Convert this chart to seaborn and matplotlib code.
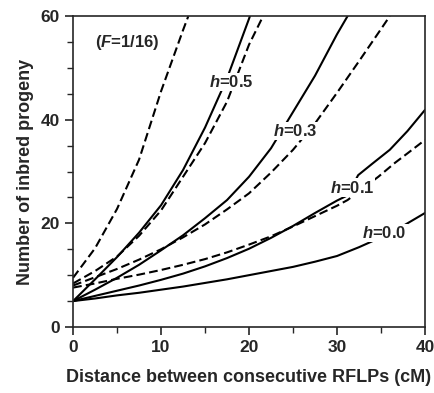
import pandas as pd
import matplotlib
matplotlib.use("Agg")
import matplotlib.pyplot as plt
import seaborn as sns
from matplotlib.ticker import MultipleLocator

sns.set_style("ticks")
plt.rcParams['font.family'] = ['Liberation Sans', 'DejaVu Sans']
plt.rcParams['mathtext.fontset'] = 'custom'
plt.rcParams['mathtext.rm'] = 'Liberation Sans:bold'
plt.rcParams['mathtext.it'] = 'Liberation Sans:italic:bold'

# values (distance in cM -> number of inbred progeny)
h00_x = [0, 2.5, 5, 7.5, 10, 12.5, 15, 17.5, 20, 22.5, 25, 27.5, 30, 32.5, 35, 37.5, 40]
h00_y = [5, 5.5, 6.1, 6.6, 7.2, 7.8, 8.5, 9.2, 10.0, 10.8, 11.6, 12.6, 13.7, 15.4, 17.3, 19.5, 22.0]

h01_x = [0, 2.5, 5, 7.5, 10, 12.5, 15, 17.5, 20, 22.5, 25, 27.5, 30, 31.2, 32.4, 34, 36, 38, 40]
h01_y = [5, 6.0, 7.0, 8.0, 9.1, 10.3, 11.7, 13.3, 15.1, 17.2, 19.5, 22.0, 24.4, 25.4, 29.3, 31.5, 34.2, 37.8, 41.9]
h01d_x = [0, 2.5, 5, 7.5, 10, 12.5, 15, 17.5, 20, 22.5, 25, 27.5, 30, 31.2, 34.7, 36.6, 38, 40]
h01d_y = [7.6, 8.4, 9.3, 10.1, 11.0, 12.0, 13.1, 14.4, 15.9, 17.5, 19.4, 21.4, 23.4, 24.5, 29.0, 31.7, 33.5, 36.1]

h03_x = [0, 2.5, 5, 7.5, 10, 12.5, 15, 17.5, 20, 22.5, 25, 27.5, 30, 31.2]
h03_y = [5, 7.2, 9.5, 12.0, 14.8, 17.7, 21.0, 24.5, 29.0, 34.5, 41.5, 48.5, 56.5, 60]
h03d_x = [0, 2.5, 5, 7.5, 10, 12.5, 15, 17.5, 20, 22.5, 25, 27.5, 30, 32.5, 35, 36]
h03d_y = [8.0, 9.6, 11.2, 13.0, 15.0, 17.3, 19.8, 22.7, 25.8, 29.8, 34.2, 39.3, 45.2, 51.3, 57.5, 60]

h05_x = [0, 2.5, 5, 7.5, 10, 12.5, 15, 17.5, 20, 20.1]
h05_y = [5, 9.2, 13.5, 18.2, 23.5, 30.3, 38.5, 48.0, 59.5, 60]
h05d_x = [0, 2.5, 5, 7.5, 10, 12.5, 15, 17.5, 20, 21.6]
h05d_y = [8.4, 10.8, 13.6, 17.6, 22.5, 29.0, 35.5, 43.5, 54.5, 60]

top_d_x = [0, 2.5, 5, 7.5, 10, 12.5, 13.1]
top_d_y = [9.5, 15.2, 22.8, 32.3, 45.5, 57.3, 60]

curves = [
    ("h0.0", "solid", h00_x, h00_y),
    ("h0.1", "solid", h01_x, h01_y),
    ("h0.1d", "dashed", h01d_x, h01d_y),
    ("h0.3", "solid", h03_x, h03_y),
    ("h0.3d", "dashed", h03d_x, h03d_y),
    ("h0.5", "solid", h05_x, h05_y),
    ("h0.5d", "dashed", h05d_x, h05d_y),
    ("top", "dashed", top_d_x, top_d_y),
]
rows = []
for name, kind, xs, ys in curves:
    for a, b in zip(xs, ys):
        rows.append({"curve": name, "kind": kind, "dist": a, "n": b})
df = pd.DataFrame(rows)

fig = plt.figure(figsize=(4.35, 3.93), dpi=100)
ax = fig.add_axes([0.168, 0.168, 0.809, 0.791])

sns.lineplot(data=df, x="dist", y="n", units="curve", estimator=None,
             style="kind", dashes={"solid": "", "dashed": (4.2, 2.0)},
             color="black", linewidth=1.5, legend=False, ax=ax)

labels = [(18.0, 47.3, "$h$=0.5"), (25.2, 37.8, "$h$=0.3"),
          (31.7, 26.9, "$h$=0.1"), (35.4, 18.1, "$h$=0.0")]
for lx, ly, txt in labels:
    ax.text(lx, ly, txt, ha="center", va="center", fontsize=12,
            fontweight="bold",
            bbox=dict(facecolor="white", edgecolor="none", pad=0.8))
ax.text(6.2, 55.0, "($F$=1/16)", ha="center", va="center", fontsize=12,
        fontweight="bold")

ax.set_xlim(0, 40)
ax.set_ylim(0, 60)
ax.xaxis.set_major_locator(MultipleLocator(10))
ax.xaxis.set_minor_locator(MultipleLocator(5))
ax.yaxis.set_major_locator(MultipleLocator(20))
ax.yaxis.set_minor_locator(MultipleLocator(5))
ax.tick_params(which="major", length=6, width=1.2, labelsize=12.5, direction="out")
ax.tick_params(which="minor", length=4, width=1.0, direction="out")
for lab in ax.get_xticklabels() + ax.get_yticklabels():
    lab.set_fontweight("bold")
for sp in ax.spines.values():
    sp.set_linewidth(1.2)

ax.set_xlabel("Distance between consecutive RFLPs (cM)", fontsize=13,
              fontweight="bold", labelpad=10)
ax.set_ylabel("Number of inbred progeny", fontsize=13, fontweight="bold",
              labelpad=5)

fig.savefig("out.png", dpi=100)
